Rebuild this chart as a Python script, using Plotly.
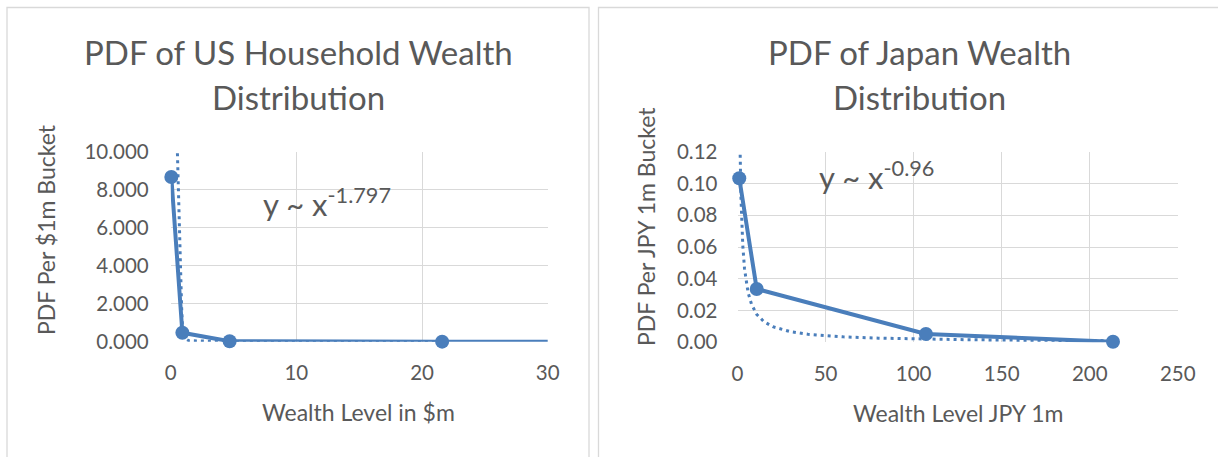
import plotly.graph_objects as go

W, H = 1218, 457

# ---------------- data ----------------
us_x = [0.05, 0.93, 4.69, 21.6, 80.0]
us_y = [8.68, 0.47, 0.02, 0.003, 0.0005]
us_trend_x = [0.52, 0.61, 0.71, 0.79, 0.87, 0.97, 1.45, 4.4, 10.0, 21.6]
us_trend_y = [10.3, 8.0, 5.3, 3.2, 1.8, 0.23, 0.05, 0.005, 0.001, 0.0003]
us_yticks = [0, 2, 4, 6, 8, 10]
us_xticks = [0, 10, 20, 30]

jp_x = [1.0, 10.9, 107.0, 213.2]
jp_y = [0.1033, 0.0336, 0.0052, 0.0003]
jp_trend_x = [1.45, 2, 3, 4, 6, 8, 11, 15, 20, 30, 40, 60, 80, 100, 130, 160, 190, 213]
jp_trend_y = [0.1225, 0.0900, 0.0610, 0.0462, 0.0313, 0.0238, 0.0175, 0.0130, 0.00986,
              0.00668, 0.00507, 0.00344, 0.00261, 0.00210, 0.00164, 0.00134, 0.00114, 0.00102]
jp_yticks = [0, 0.02, 0.04, 0.06, 0.08, 0.10, 0.12]
jp_xticks = [0, 50, 100, 150, 200, 250]

us_title = ["PDF of US Household Wealth", "Distribution"]
jp_title = ["PDF of Japan Wealth", "Distribution"]
us_xtitle = "Wealth Level in $m"
us_ytitle = "PDF Per $1m Bucket"
jp_xtitle = "Wealth Level JPY 1m"
jp_ytitle = "PDF Per JPY 1m Bucket"
us_fit = "y ~ x<sup>-1.797</sup>"
jp_fit = "y ~ x<sup>-0.96</sup>"

# ---------------- style ----------------
BLUE = "#4a7ebb"
TXT = "#595959"
GRID = "#d9d9d9"
FONT = "Lato"


def px(x):
    return x / W


def py(y):
    return 1 - y / H


fig = go.Figure()

fig.add_trace(go.Scatter(x=us_trend_x, y=us_trend_y, mode="lines", xaxis="x", yaxis="y",
                         line=dict(color=BLUE, width=3, dash="3px,4px"), cliponaxis=True,
                         hoverinfo="skip"))
fig.add_trace(go.Scatter(x=us_x, y=us_y, mode="lines", xaxis="x", yaxis="y",
                         line=dict(color=BLUE, width=4), cliponaxis=True))
us_in = [(a, b) for a, b in zip(us_x, us_y) if a <= us_xticks[-1]]
fig.add_trace(go.Scatter(x=[a for a, _ in us_in], y=[b for _, b in us_in], mode="markers",
                         xaxis="x", yaxis="y", marker=dict(color=BLUE, size=14),
                         cliponaxis=False))

fig.add_trace(go.Scatter(x=jp_trend_x, y=jp_trend_y, mode="lines", xaxis="x2", yaxis="y2",
                         line=dict(color=BLUE, width=3, dash="3px,4px"), cliponaxis=True,
                         hoverinfo="skip"))
fig.add_trace(go.Scatter(x=jp_x, y=jp_y, mode="lines+markers", xaxis="x2", yaxis="y2",
                         line=dict(color=BLUE, width=4),
                         marker=dict(color=BLUE, size=14), cliponaxis=False))

tickfont = dict(family=FONT, size=20.5, color=TXT)
axcommon = dict(showgrid=True, gridcolor=GRID, gridwidth=1.4, zeroline=False,
                showline=False, ticks="", tickfont=tickfont, fixedrange=True,
                automargin=False)

fig.update_layout(
    width=W, height=H, margin=dict(l=0, r=0, t=0, b=0, pad=0, autoexpand=False),
    paper_bgcolor="white", plot_bgcolor="white", showlegend=False,
    xaxis=dict(domain=[px(170.7), px(547.7)], range=[0, 30], tickmode="array",
               tickvals=us_xticks, anchor="y", ticklabelstandoff=17, **axcommon),
    yaxis=dict(domain=[py(341.7), py(152)], range=[0, 10], tickmode="array",
               tickvals=us_yticks, tickformat=".3f", anchor="x", ticklabelstandoff=21,
               **axcommon),
    xaxis2=dict(domain=[px(737.5), px(1177.8)], range=[0, 250], tickmode="array",
                tickvals=jp_xticks, anchor="y2", ticklabelstandoff=17, **axcommon),
    yaxis2=dict(domain=[py(342.3), py(151.7)], range=[0, 0.12], tickmode="array",
                tickvals=jp_yticks, tickformat=".2f", anchor="x2", ticklabelstandoff=19,
                **axcommon),
)

fig.add_shape(type="rect", xref="paper", yref="paper", x0=px(7), x1=px(589),
              y0=py(470), y1=py(7.5), line=dict(color=GRID, width=1.3), layer="below")
fig.add_shape(type="rect", xref="paper", yref="paper", x0=px(598.5), x1=px(1240),
              y0=py(470), y1=py(7.5), line=dict(color=GRID, width=1.3), layer="below")


def ann(text, x, y, size, **kw):
    d = dict(text=text, x=px(x), y=py(y), xref="paper", yref="paper", showarrow=False,
             font=dict(family=FONT, size=size, color=TXT), xanchor="center", yanchor="middle")
    d.update(kw)
    fig.add_annotation(**d)


ann(us_title[0], 298, 52, 33)
ann(us_title[1], 298, 97, 33)
ann(jp_title[0], 919, 52, 33)
ann(jp_title[1], 919, 97, 33)
ann(us_xtitle, 359, 412, 23)
ann(jp_xtitle, 957.7, 413, 23)
ann(us_ytitle, 46, 230, 23, textangle=-90)
ann(jp_ytitle, 646, 227, 23, textangle=-90)
ann(us_fit, 261, 203, 31, xanchor="left")
ann(jp_fit, 816.7, 176, 31, xanchor="left")

fig.write_html(
    "out.html",
    config={"displayModeBar": False},
    post_script=(
        "document.body.style.margin='0';document.body.style.overflow='hidden';"
        "var s=document.createElement('style');"
        "s.textContent='svg text{font-variant-ligatures:none;}';"
        "document.head.appendChild(s);"
    ),
)
